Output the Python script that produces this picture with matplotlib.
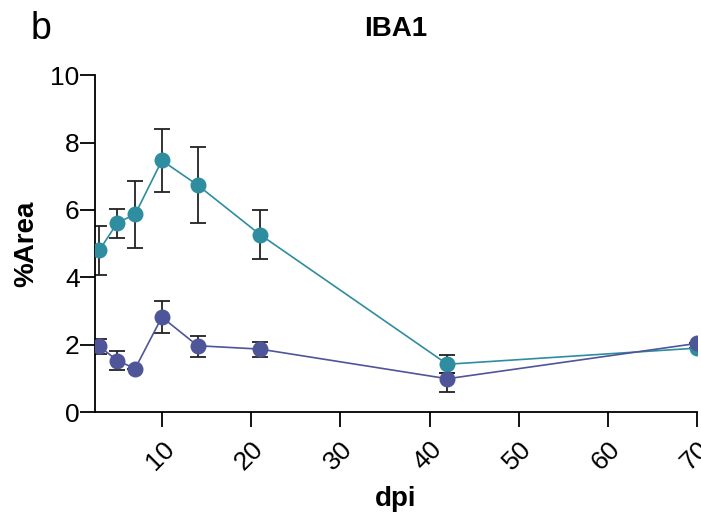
import numpy as np
import matplotlib
matplotlib.use("Agg")
from matplotlib import pyplot as plt

plt.rcParams['font.family'] = ['Liberation Sans', 'DejaVu Sans']

# days post injury
dpi = [3, 5, 7, 10, 14, 21, 42, 70]

teal_mean = [4.81, 5.62, 5.87, 7.47, 6.74, 5.27, 1.42, 1.90]
teal_lo = [4.07, 5.18, 4.88, 6.52, 5.61, 4.54, 1.16, 1.90]
teal_hi = [5.53, 6.04, 6.86, 8.41, 7.86, 5.99, 1.68, 1.90]

purple_mean = [1.95, 1.53, 1.29, 2.82, 1.97, 1.87, 0.99, 2.04]
purple_lo = [1.72, 1.25, 1.29, 2.34, 1.64, 1.64, 0.59, 2.04]
purple_hi = [2.16, 1.82, 1.29, 3.29, 2.27, 2.07, 1.15, 2.04]

teal = '#2e8d9f'
purple = '#4e5599'

fig = plt.figure(figsize=(7.01, 5.19), dpi=100)
ax = fig.add_axes([0.1355, 0.206, 0.859, 0.649])

for mean, lo, hi, col in [(teal_mean, teal_lo, teal_hi, teal),
                          (purple_mean, purple_lo, purple_hi, purple)]:
    m = np.array(mean)
    yerr = [m - np.array(lo), np.array(hi) - m]
    ax.errorbar(dpi, m, yerr=yerr, fmt='none', ecolor='#222222',
                elinewidth=1.3, capsize=6, capthick=1.3, zorder=2)
    ax.plot(dpi, m, color=col, lw=1.2, marker='o', markersize=11.5,
            markeredgewidth=0, zorder=3)

ax.set_xlim(2.5, 70)
ax.set_ylim(0, 10)
ax.set_xticks([10, 20, 30, 40, 50, 60, 70])
ax.set_yticks([0, 2, 4, 6, 8, 10])
ax.spines['top'].set_visible(False)
ax.spines['right'].set_visible(False)
ax.spines['left'].set_linewidth(1.3)
ax.spines['bottom'].set_linewidth(1.3)
ax.tick_params(axis='both', length=11, width=1.3, labelsize=19, pad=0)
ax.tick_params(axis='x', pad=7)
for lab in ax.get_xticklabels():
    lab.set_rotation(45)
    lab.set_ha('right')
    lab.set_rotation_mode('anchor')

ax.set_xlabel('dpi', fontsize=20, fontweight='bold', labelpad=8)
ax.set_ylabel('%Area', fontsize=20, fontweight='bold', labelpad=8)
ax.set_title('IBA1', fontsize=20, fontweight='bold', pad=28)
fig.text(0.043, 0.925, 'b', fontsize=27)

fig.savefig('out.png', dpi=100)
